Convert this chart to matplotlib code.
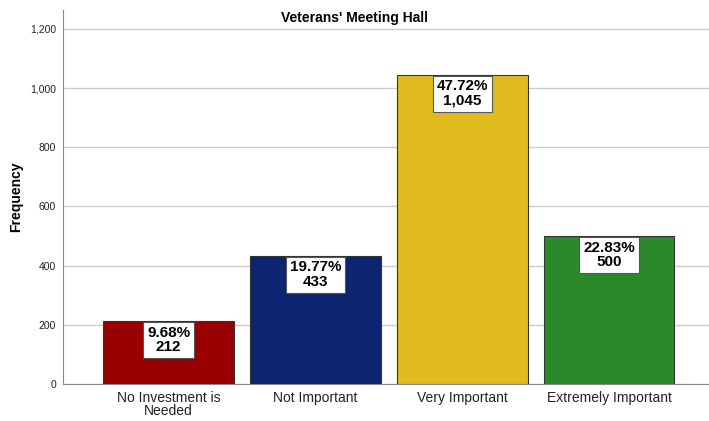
import matplotlib
matplotlib.use('agg')
import matplotlib.pyplot as plt
import numpy as np

categories = ['No Investment is\nNeeded', 'Not Important', 'Very Important', 'Extremely Important']
counts = [212, 433, 1045, 500]
colors = ['#990000', '#0b2570', '#e0bb20', '#2a8a2a']

plt.rcParams['font.family'] = ['Liberation Sans', 'DejaVu Sans']

fig = plt.figure(figsize=(7.09, 4.21), dpi=100)
ax = fig.add_axes([63 / 709, 1 - 384 / 421, 646 / 709, 374 / 421])

x = np.arange(len(categories))
total = sum(counts)
ax.bar(x, counts, width=0.89, color=colors, edgecolor='#333333', linewidth=0.8, zorder=3)

# white value boxes hanging from the top of each bar
for xi, c in zip(x, counts):
    ax.annotate('{:.2f}%\n{:,}'.format(c / total * 100, c), (xi, c),
                xytext=(0, -3.3), textcoords='offset points',
                ha='center', va='top', fontsize=11, fontweight='bold',
                linespacing=1.05, zorder=4,
                bbox=dict(boxstyle='square,pad=0.25', fc='white', ec='#555555', lw=0.8))

ax.set_xlim(-0.72, 3.68)
ax.set_ylim(0, 1264)
ax.set_yticks(range(0, 1201, 200))
ax.set_yticklabels(['{:,}'.format(v) for v in range(0, 1201, 200)], fontsize=7.5)
ax.set_xticks(x)
ax.set_xticklabels(categories, fontsize=10, linespacing=0.95)
ax.tick_params(axis='both', length=0, pad=5, colors='#222222')
ax.set_ylabel('Frequency', fontsize=10, fontweight='bold', labelpad=5)
ax.yaxis.grid(True, color='#cccccc', linewidth=1, zorder=0)
ax.set_axisbelow(True)
for s in ['top', 'right']:
    ax.spines[s].set_visible(False)
for s in ['left', 'bottom']:
    ax.spines[s].set_color('#888888')

fig.text(0.5, 1 - 18 / 421, "Veterans' Meeting Hall", ha='center', va='center',
         fontsize=10, fontweight='bold')

fig.savefig('out.png', dpi=100)
